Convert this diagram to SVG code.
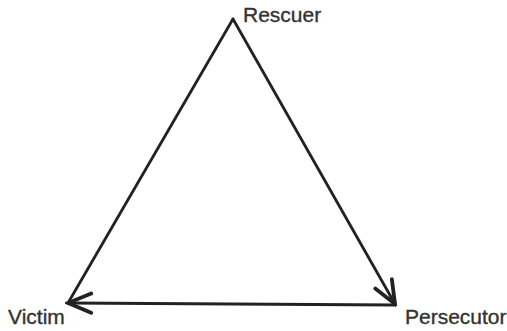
<svg xmlns="http://www.w3.org/2000/svg" width="507" height="331" viewBox="0 0 507 331">
<defs>
<style>
.lbl{font-family:"Liberation Sans",Arial,sans-serif;font-size:21px;fill:#333;stroke:#333;stroke-width:0.35}
.edge{stroke:#222;stroke-width:2.8;fill:none;stroke-linecap:round}
</style>
<marker id="ah" markerUnits="userSpaceOnUse" markerWidth="30" markerHeight="30" viewBox="-20 -10 22 20" refX="0" refY="0" orient="auto">
<path d="M-17,-7 L0,0 L-17,7" fill="none" stroke="#222" stroke-width="2.8" stroke-linecap="round" stroke-linejoin="miter"/>
</marker>
</defs>
<rect width="507" height="331" fill="#fff"/>
<g id="connectors">
<line class="edge" x1="233" y1="19" x2="68" y2="303"/>
<line class="edge" x1="233" y1="19" x2="395" y2="304" marker-end="url(#ah)"/>
<line class="edge" x1="395" y1="305" x2="68" y2="303" marker-end="url(#ah)"/>
</g>
<g id="rescuer"><text class="lbl" x="243" y="22">Rescuer</text></g>
<g id="victim"><text class="lbl" x="8" y="324">Victim</text></g>
<g id="persecutor"><text class="lbl" x="405" y="324">Persecutor</text></g>
</svg>
